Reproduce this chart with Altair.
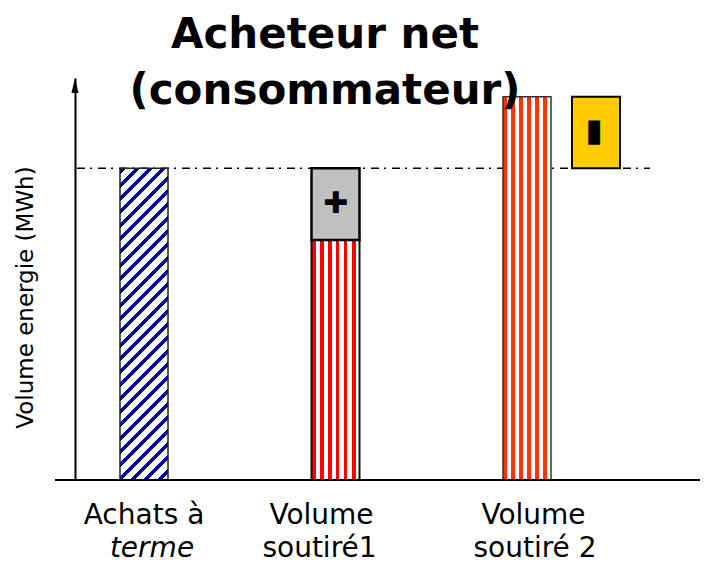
import altair as alt
import pandas as pd

# ---------------- data ----------------
categories = ["Achats à terme", "Volume soutiré1", "Volume soutiré 2"]
seg_category = ["Achats à terme", "Volume soutiré1", "Volume soutiré1",
                "Volume soutiré 2", "Volume soutiré 2"]
seg_name = ["terme", "soutiré", "écart +", "soutiré", "écart −"]
seg_low = [0, 0, 77, 0, 100]
seg_high = [100, 77, 100, 123, 123]

label_line1 = ["Achats à", "Volume", "Volume"]
label_line2 = ["terme", "soutiré1", "soutiré 2"]
title_lines = ["Acheteur net", "(consommateur)"]
y_title = "Volume energie (MWh)"
sign_plus = "✚"
sign_minus = "▬"

df = pd.DataFrame({"categorie": seg_category, "segment": seg_name,
                   "bas": seg_low, "haut": seg_high})

# ---------------- layout / style ----------------
W_PLOT = 625
H_PLOT = 402
Y_MAX = 129
BAR_W = 48
STEP = 191.5
FONT = "DejaVu Sans"

xscale = alt.Scale(domain=categories, range=[45, 45 + 2 * STEP + BAR_W],
                   paddingInner=1 - BAR_W / STEP, paddingOuter=0)
yscale = alt.Scale(domain=[0, Y_MAX], nice=False, zero=True)
yaxis = alt.Axis(title=y_title, labels=False, ticks=False, grid=False,
                 domain=True, domainColor="black", domainWidth=2,
                 titleFont=FONT, titleFontSize=23, titleFontWeight="normal",
                 titleColor="black", titleAngle=270, titleX=-50, titleY=219,
                 titleAlign="center", titleBaseline="middle")


def X():
    return alt.X("categorie:N", scale=xscale, axis=None)


def Y(field):
    return alt.Y(f"{field}:Q", scale=yscale, axis=yaxis)


def vstripes(col, pairs=6):
    n = 2 * pairs
    stops = []
    for j in range(n):
        c = col if j % 2 == 0 else "#FFFFFF"
        stops += [{"offset": j / n, "color": c}, {"offset": (j + 1) / n, "color": c}]
    return {"gradient": "linear", "x1": 0, "y1": 0, "x2": 1, "y2": 0, "stops": stops}


def dstripes(col, w, h, count=27, start=1.5, thick=5.0):
    s = w + h
    k = s / (w * w + h * h)
    p = s / count
    stops = [{"offset": 0, "color": "#FFFFFF"}]
    for i in range(count):
        a = (i * p + start) / s
        b = min((i * p + start + thick) / s, 1)
        stops += [{"offset": a, "color": "#FFFFFF"}, {"offset": a, "color": col},
                  {"offset": b, "color": col}, {"offset": b, "color": "#FFFFFF"}]
    stops.append({"offset": 1, "color": "#FFFFFF"})
    return {"gradient": "linear", "x1": 0, "y1": 0, "x2": k * w, "y2": k * h, "stops": stops}


base = alt.Chart(df)
bar_h_blue = H_PLOT * seg_high[0] / Y_MAX

dash = base.transform_filter(alt.datum.segment == "terme").mark_rule(
    color="black", strokeWidth=1.5, strokeDash=[8, 5, 2, 6]
).encode(y=Y("haut"), x=alt.value(2), x2=alt.value(575))

blue = base.transform_filter(alt.datum.segment == "terme").mark_bar(
    fill=dstripes("#00009C", BAR_W, bar_h_blue), stroke="#222222", strokeWidth=1.5
).encode(x=X(), y=Y("bas"), y2="haut")

red1 = base.transform_filter(
    (alt.datum.segment == "soutiré") & (alt.datum.categorie == categories[1])
).mark_bar(fill=vstripes("#FF0000"), stroke="#111111", strokeWidth=2
           ).encode(x=X(), y=Y("bas"), y2="haut")

gray = base.transform_filter(alt.datum.segment == "écart +").mark_bar(
    fill="#C0C0C0", stroke="black", strokeWidth=2.5
).encode(x=X(), y=Y("bas"), y2="haut")

red2 = base.transform_filter(
    (alt.datum.segment == "soutiré") & (alt.datum.categorie == categories[2])
).mark_bar(fill=vstripes("#FF3300"), stroke="#333333", strokeWidth=1.5
           ).encode(x=X(), y=Y("bas"), y2="haut")

yellow = base.transform_filter(alt.datum.segment == "écart −").mark_bar(
    fill="#FFCC00", stroke="black", strokeWidth=2, xOffset=69
).encode(x=X(), y=Y("bas"), y2="haut")

plus = base.transform_filter(alt.datum.segment == "écart +").transform_calculate(
    mid="(datum.bas + datum.haut) / 2", sign=f"'{sign_plus}'"
).mark_text(font=FONT, fontSize=30, color="black", align="center", baseline="middle"
            ).encode(x=X(), y=Y("mid"), text="sign:N")

minus = base.transform_filter(alt.datum.segment == "écart −").transform_calculate(
    mid="(datum.bas + datum.haut) / 2", sign=f"'{sign_minus}'"
).mark_text(font=FONT, fontSize=32, color="black", align="center", baseline="middle",
            angle=90, xOffset=69
            ).encode(x=X(), y=Y("mid"), text="sign:N")

one = pd.DataFrame({"k": [0]})
xaxis_line = alt.Chart(one).mark_rule(color="black", strokeWidth=2).encode(
    y=alt.value(H_PLOT), x=alt.value(-20), x2=alt.value(W_PLOT))
arrow = alt.Chart(one).mark_point(
    shape="M0,-1L0.47,1L-0.47,1Z", size=225, filled=True, color="black",
    opacity=1, strokeWidth=0
).encode(x=alt.value(0), y=alt.value(7.5))

lab_df = pd.DataFrame({"categorie": categories, "l1": label_line1, "l2": label_line2})
dx1 = [0, -14, 6.5]
dx2 = [8, -16, 8]
labels = []
for i, cat in enumerate(categories):
    sub = alt.Chart(lab_df).transform_filter(alt.datum.categorie == cat)
    labels.append(sub.mark_text(font=FONT, fontSize=28, color="black", align="center",
                                baseline="alphabetic", dx=dx1[i]
                                ).encode(x=X(), y=alt.value(446), text="l1:N"))
    labels.append(sub.mark_text(font=FONT, fontSize=28, color="black", align="center",
                                baseline="alphabetic", dx=dx2[i],
                                fontStyle="italic" if i == 0 else "normal"
                                ).encode(x=X(), y=alt.value(479), text="l2:N"))

t_df = pd.DataFrame({"t": title_lines, "n": [0, 1]})
title1 = alt.Chart(t_df).transform_filter(alt.datum.n == 0).mark_text(
    font=FONT, fontSize=42, fontWeight="bold", color="black", align="center",
    baseline="alphabetic").encode(x=alt.value(250), y=alt.value(-30), text="t:N")
title2 = alt.Chart(t_df).transform_filter(alt.datum.n == 1).mark_text(
    font=FONT, fontSize=42, fontWeight="bold", color="black", align="center",
    baseline="alphabetic").encode(x=alt.value(250), y=alt.value(26), text="t:N")

chart = alt.layer(
    dash, blue, red1, gray, red2, yellow, plus, minus, xaxis_line, arrow,
    *labels, title1, title2
).properties(
    width=W_PLOT, height=H_PLOT, autosize="none", background="white",
    padding={"left": 67, "top": 70, "right": 7, "bottom": 86}
).configure_view(stroke="transparent", strokeWidth=0)

chart.save("out.html", embed_options={"renderer": "svg", "actions": False})
